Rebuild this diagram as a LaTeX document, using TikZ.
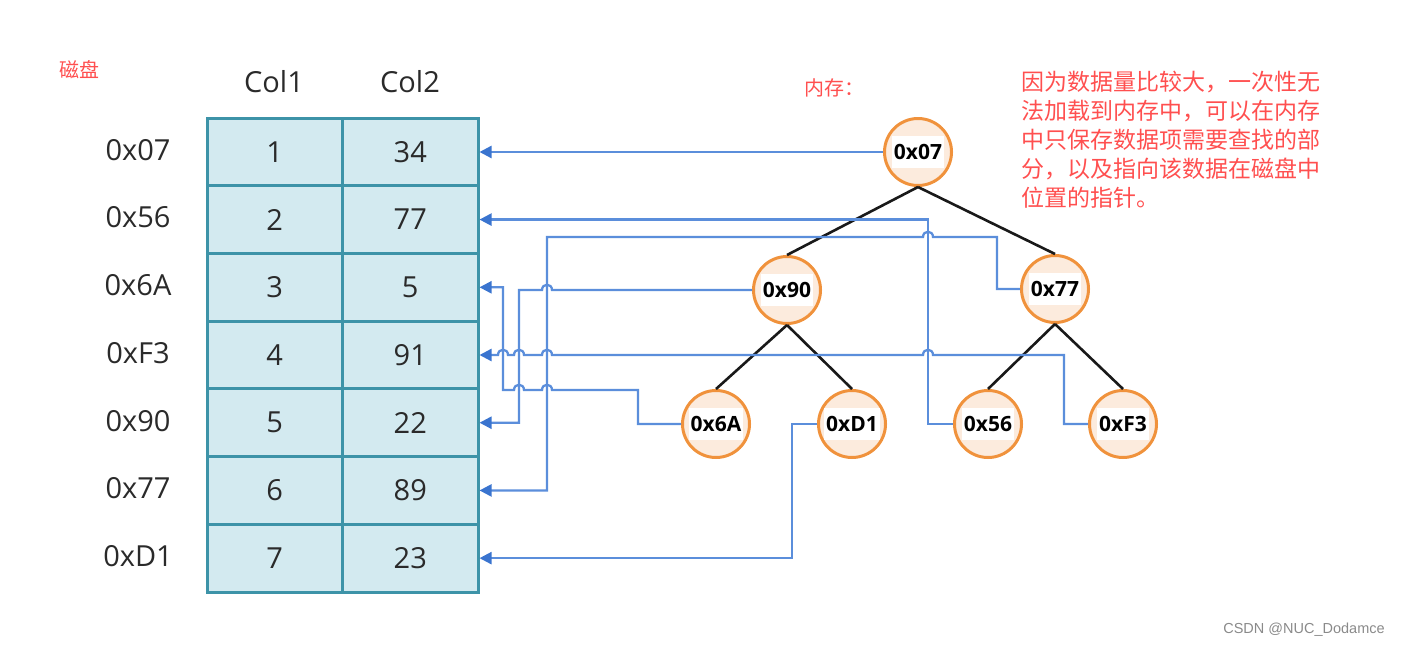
\documentclass[tikz,border=0pt]{standalone}
\usepackage{fontspec}
\setmainfont{Open Sans}
\newfontfamily\cjk{Noto Sans CJK SC}
\newfontfamily\wmfont{Liberation Sans}
\usetikzlibrary{arrows.meta,calc}
\definecolor{tblfill}{HTML}{D3EAF0}
\definecolor{tblborder}{HTML}{3D93A8}
\definecolor{tbltext}{HTML}{2A2A2A}
\definecolor{circfill}{HTML}{FCEBDD}
\definecolor{circborder}{HTML}{F0923C}
\definecolor{linkblue}{HTML}{5B8EDB}
\definecolor{arrowblue}{HTML}{3A74CF}
\definecolor{notered}{HTML}{FF4F4F}
\definecolor{wmgray}{HTML}{8A8A8A}
\begin{document}
\begin{tikzpicture}[x=1pt,y=-1pt,
  cell/.style={draw=tblborder, line width=3pt, fill=tblfill, minimum width=135.5pt,
    minimum height=67.714pt, inner sep=0pt, text=tbltext, font=\fontsize{29}{34}\selectfont},
  rowlbl/.style={text=tbltext, inner sep=0pt, font=\fontsize{29}{34}\selectfont},
  hdr/.style={text=tbltext, inner sep=0pt, font=\fontsize{29}{34}\selectfont},
  circ/.style={circle, draw=circborder, line width=3pt, fill=circfill, minimum size=67pt, inner sep=0pt},
  lbl/.style={fill=white, inner sep=2pt, minimum height=32pt, font=\bfseries\fontsize{21}{24}\selectfont},
  treeedge/.style={draw=black!90, line width=2.6pt},
  link/.style={draw=linkblue, line width=2.3pt, line join=miter,
    -{Triangle[length=12pt,width=12pt,color=arrowblue]}},
  note/.style={text=notered, inner sep=0pt, font=\cjk\fontsize{20}{24}\selectfont},
  wm/.style={text=wmgray, inner sep=0pt, font=\wmfont\fontsize{14.5}{17}\selectfont}
]
\useasboundingbox (0,0) rectangle (1404,648);

% table
\foreach \i/\c/\d/\h in {1/1/34/0x07, 2/2/77/0x56, 3/3/5/0x6A, 4/4/91/0xF3, 5/5/22/0x90, 6/6/89/0x77, 7/7/23/0xD1} {
  \pgfmathsetmacro\yy{118+(\i-0.5)*67.714}
  \node[cell] (a\i) at (274.75,\yy) {\c};
  \node[cell] (b\i) at (410.25,\yy) {\d};
  \node[rowlbl] (l\i) at (138,\yy-2) {\h};
}
\node[hdr] (c1) at (274,82) {Col1};
\node[hdr] (c2) at (410,82) {Col2};

% memory tree
\node[circ] (n07) at (918,152) {};
\node[circ] (n90) at (787,290) {};
\node[circ] (n77) at (1055,289) {};
\node[circ] (n6A) at (716,424) {};
\node[circ] (nD1) at (852,424) {};
\node[circ] (n56) at (988,424) {};
\node[circ] (nF3) at (1123,424) {};

\draw[treeedge] (n07.south) -- (n90.north);
\draw[treeedge] (n07.south) -- (n77.north);
\draw[treeedge] (n90.south) -- (n6A.north);
\draw[treeedge] (n90.south) -- (nD1.north);
\draw[treeedge] (n77.south) -- (n56.north);
\draw[treeedge] (n77.south) -- (nF3.north);

\node[lbl] (t07) at (n07) {0x07};
\node[lbl] (t90) at (n90) {0x90};
\node[lbl] (t77) at (n77) {0x77};
\node[lbl] (t6A) at (n6A) {0x6A};
\node[lbl] (tD1) at (nD1) {0xD1};
\node[lbl] (t56) at (n56) {0x56};
\node[lbl] (tF3) at (nF3) {0xF3};

% pointers
\coordinate (p56) at (928,424);
\coordinate (p77) at (997,289);
\coordinate (pD1) at (792,424);
\draw[link] (n07.west) -- (n07.west -| b1.east);
\draw[link] (n56.west) -- (p56) |- (b2.east);
\draw[link] (n77.west) -- (p77) -- (997,237) -- (933,237)
  .. controls (933,230) and (923,230) .. (923,237) -- (547,237) |- (b6.east);
\draw[link] (n90.west) -- (552,290)
  .. controls (552,283) and (542,283) .. (542,290) -- (519,290) |- (b5.east);
\draw[link] (n6A.west) -- (638,424) -- (638,390) -- (552,390)
  .. controls (552,383) and (542,383) .. (542,390) -- (524,390)
  .. controls (524,383) and (514,383) .. (514,390) -- (503,390) |- (b3.east);
\draw[link] (nF3.west) -- (1064,424) -- (1064,355) -- (933,355)
  .. controls (933,348) and (923,348) .. (923,355) -- (552,355)
  .. controls (552,348) and (542,348) .. (542,355) -- (524,355)
  .. controls (524,348) and (514,348) .. (514,355) -- (508,355)
  .. controls (508,348) and (498,348) .. (498,355) -- (b4.east);
\draw[link] (nD1.west) -- (pD1) |- (b7.east);

% notes
\node[note] (disk) at (79,70) {磁盘};
\node[note] (mem) at (834,88) {内存：};
\node[note, anchor=north west, align=left, font=\cjk\fontsize{23}{29}\selectfont] (para) at (1021,71)
  {因为数据量比较大，一次性无\\法加载到内存中，可以在内存\\中只保存数据项需要查找的部\\分，以及指向该数据在磁盘中\\位置的指针。};
\node[wm] (wmk) at (1304,630) {CSDN @NUC\_Dodamce};
\end{tikzpicture}
\end{document}
